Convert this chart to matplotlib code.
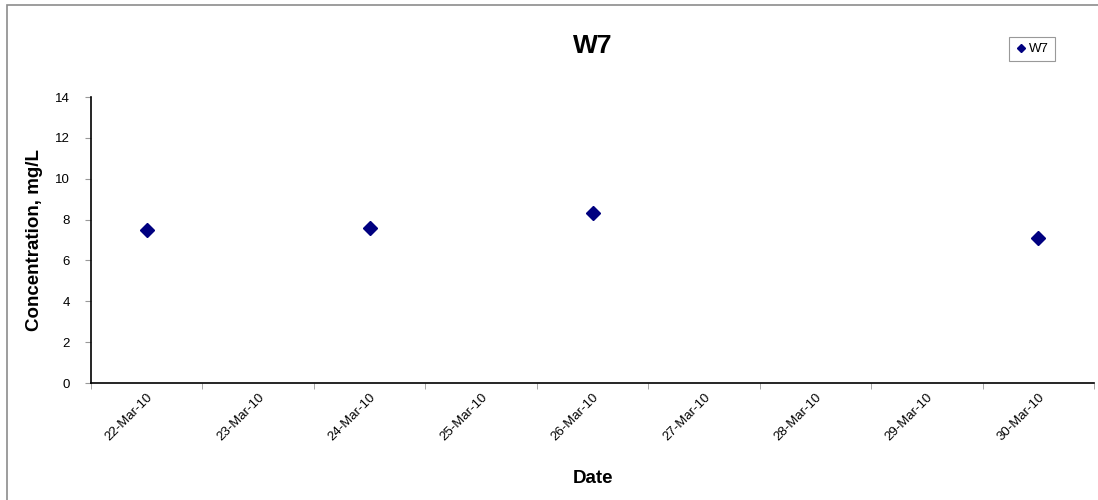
import matplotlib
matplotlib.use('Agg')
import matplotlib.pyplot as plt
from matplotlib.patches import Rectangle

plt.rcParams['font.family'] = ['Liberation Sans', 'DejaVu Sans']

# data
dates = ['22-Mar-10', '23-Mar-10', '24-Mar-10', '25-Mar-10', '26-Mar-10',
         '27-Mar-10', '28-Mar-10', '29-Mar-10', '30-Mar-10']
w7_dates = ['22-Mar-10', '24-Mar-10', '26-Mar-10', '30-Mar-10']
w7_values = [7.5, 7.6, 8.3, 7.1]

W, H = 1098, 500
fig = plt.figure(figsize=(W / 100, H / 100), dpi=100)

# outer chart border (runs off the right and bottom edges)
fig.patches.append(Rectangle((7 / W, -0.1), 1.2, 1.1 - 5 / H,
                             transform=fig.transFigure, fill=False,
                             edgecolor='#8c8c8c', linewidth=1.2))

ax = fig.add_axes([91 / W, 1 - 383 / H, (1094 - 91) / W, (383 - 97) / H])

xpos = [dates.index(d) for d in w7_dates]
ax.plot(xpos, w7_values, linestyle='none', marker='D', markersize=7,
        color='#000080', label='W7')

ax.set_xlim(-0.5, len(dates) - 0.5)
ax.set_ylim(0, 14)
ax.set_yticks(range(0, 15, 2))
ax.set_xticks(range(len(dates)))
ax.set_xticklabels(dates, rotation=45, ha='right', rotation_mode='anchor')
ax.set_xticks([i - 0.5 for i in range(len(dates) + 1)], minor=True)
ax.tick_params(axis='x', which='major', length=0, pad=6, labelsize=9.5)
ax.tick_params(axis='x', which='minor', length=4, color='#999999')
ax.tick_params(axis='y', length=4, color='#999999', labelsize=9.5, pad=11)

for s in ['top', 'right']:
    ax.spines[s].set_visible(False)
ax.spines['left'].set_linewidth(1.2)
ax.spines['bottom'].set_linewidth(1.2)

ax.set_title('W7', fontsize=19, fontweight='bold', pad=32)
ax.set_xlabel('Date', fontsize=13.5, fontweight='bold', labelpad=19)
ax.set_ylabel('Concentration, mg/L', fontsize=13.5, fontweight='bold', labelpad=9)

leg = ax.legend(loc='upper right', bbox_to_anchor=(1055 / W, 1 - 37 / H),
                bbox_transform=fig.transFigure, fontsize=9.5, markerscale=0.55,
                handlelength=1.0, handletextpad=0.1, borderpad=0.45,
                borderaxespad=0, fancybox=False, framealpha=1)
leg.get_frame().set_edgecolor('#999999')
leg.get_frame().set_linewidth(0.8)

fig.savefig('out.png', dpi=100)
